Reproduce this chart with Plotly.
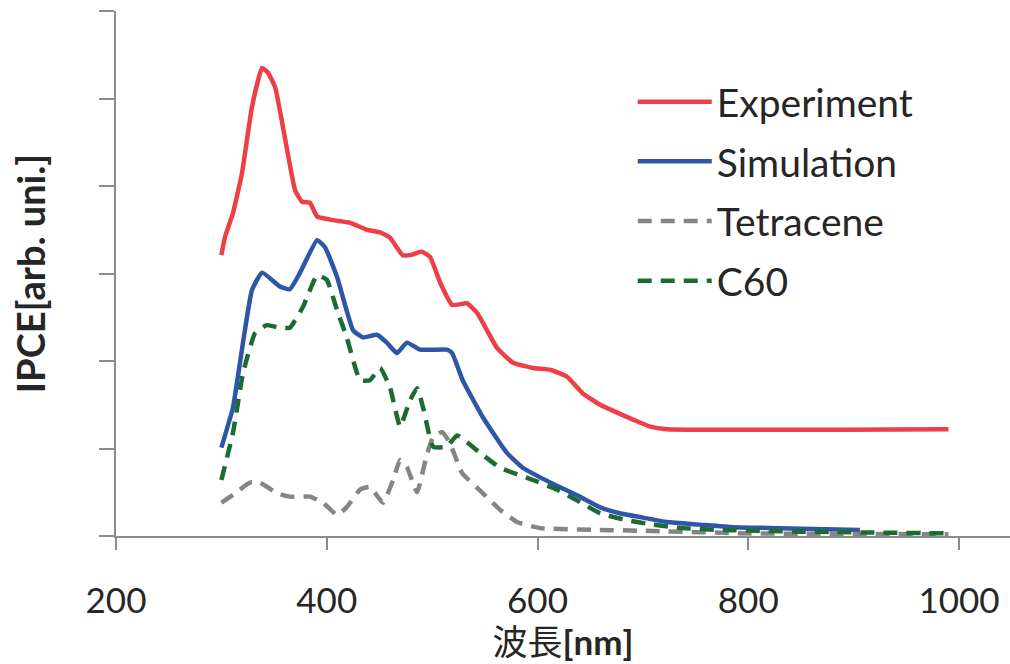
import plotly.graph_objects as go

# ---- data ----
exp_x = [300, 303.5, 311, 319.6, 329, 338.6, 344, 351, 358.5, 370, 376.6, 384, 391, 406, 422, 438,
         450.6, 460, 472, 479, 490, 498, 507.5, 519, 533, 542.7, 561.6, 576.8, 595.8, 612, 628, 643,
         659.4, 675.6, 690.7, 707, 723, 990]
exp_y = [3.21, 3.42, 3.69, 4.15, 4.90, 5.35, 5.30, 5.13, 4.67, 3.95, 3.82, 3.81, 3.65, 3.61, 3.58, 3.50,
         3.47, 3.41, 3.21, 3.21, 3.25, 3.19, 2.90, 2.64, 2.66, 2.55, 2.15, 1.98, 1.92, 1.90, 1.82, 1.63,
         1.50, 1.41, 1.33, 1.25, 1.22, 1.22]

sim_x = [300, 311, 320.5, 329, 338.6, 355.7, 365, 374.7, 390.8, 398.4, 409.8, 425, 434.5, 447.7, 457,
         466.7, 476, 488.6, 514, 519, 529, 548, 571, 586, 602.5, 621, 640, 659, 678, 700, 723, 754,
         785.7, 830, 906]
sim_y = [1.01, 1.47, 2.21, 2.81, 3.01, 2.85, 2.82, 3.01, 3.38, 3.30, 2.96, 2.35, 2.27, 2.30, 2.21,
         2.09, 2.21, 2.13, 2.13, 2.09, 1.78, 1.36, 0.95, 0.78, 0.67, 0.56, 0.45, 0.33, 0.26, 0.21, 0.16, 0.13,
         0.10, 0.09, 0.07]

tet_x = [300, 311, 327, 336.7, 352.8, 365, 384, 396.5, 409.8, 419, 431.6, 441, 453.4, 463, 469.6, 476,
         485.7, 495, 501, 509.4, 517, 528.4, 548, 564.5, 580.6, 602.5, 659.4, 700, 802, 990]
tet_y = [0.38, 0.47, 0.61, 0.61, 0.49, 0.45, 0.45, 0.38, 0.24, 0.33, 0.53, 0.56, 0.38, 0.64, 0.87, 0.79,
         0.50, 0.93, 1.13, 1.19, 1.06, 0.72, 0.49, 0.30, 0.16, 0.09, 0.07, 0.06, 0.03, 0.02]

c60_x = [300, 311, 320.5, 332, 343, 355.7, 365, 377.5, 390.8, 400, 409.8, 419, 431.6, 441, 450.6, 460,
         469.6, 479, 485.7, 491.4, 501, 514, 523.7, 545.5, 564.5, 595.8, 618.6, 640, 659.4, 685, 709.7,
         738, 770.5, 849, 990]
c60_y = [0.64, 1.18, 1.86, 2.32, 2.41, 2.38, 2.38, 2.62, 2.98, 2.93, 2.58, 2.27, 1.78, 1.78, 1.92, 1.70,
         1.25, 1.55, 1.69, 1.47, 1.02, 1.02, 1.15, 0.95, 0.78, 0.64, 0.53, 0.39, 0.26, 0.18, 0.13,
         0.09, 0.07, 0.05, 0.03]

x_ticks = [200, 400, 600, 800, 1000]
y_ticks = [0, 1, 2, 3, 4, 5, 6]

FONT = "Lato, 'Noto Sans CJK JP', sans-serif"
AXC = "#8c8c8c"
TXT = "#262626"
DASH = "14px,9px"

fig = go.Figure()
fig.add_trace(go.Scatter(x=exp_x, y=exp_y, name="Experiment", mode="lines", legendgroup="a",
                         line=dict(color="#EE3E48", width=4.5, shape="spline", smoothing=0.4)))
fig.add_trace(go.Scatter(x=sim_x, y=sim_y, name="Simulation", mode="lines", legendgroup="b",
                         line=dict(color="#2E56A8", width=4.5, shape="spline", smoothing=0.4)))
fig.add_trace(go.Scatter(x=tet_x, y=tet_y, name="Tetracene", mode="lines", legendgroup="c",
                         line=dict(color="#858585", width=4.5, dash=DASH, shape="spline", smoothing=0.4)))
fig.add_trace(go.Scatter(x=c60_x, y=c60_y, name="C60", mode="lines", legendgroup="d",
                         line=dict(color="#1D6B34", width=4.5, dash=DASH, shape="spline", smoothing=0.4)))

fig.update_layout(
    width=1010, height=664,
    margin=dict(l=116, r=0, t=11, b=128),
    paper_bgcolor="white", plot_bgcolor="white",
    font=dict(family=FONT, size=36, color=TXT),
    showlegend=True,
    legend=dict(x=0.578, y=0.888, xanchor="left", yanchor="top", bgcolor="rgba(0,0,0,0)",
                font=dict(size=39, color=TXT), tracegroupgap=6, itemwidth=74,
                traceorder="grouped"),
)
fig.update_xaxes(range=[200, 1048.4], tickvals=x_ticks, ticktext=[str(v) for v in x_ticks],
                 showgrid=False, zeroline=False, showline=True, linecolor=AXC, linewidth=2,
                 ticks="outside", ticklen=12, tickwidth=2, tickcolor=AXC,
                 tickfont=dict(size=35, color=TXT), ticklabelstandoff=21,
                 title=dict(text="波長<b>[nm]</b>", font=dict(size=35, color=TXT), standoff=4))
fig.update_yaxes(range=[0, 6], tickvals=y_ticks, showticklabels=False,
                 showgrid=False, zeroline=False, showline=True, linecolor=AXC, linewidth=2,
                 ticks="outside", ticklen=15, tickwidth=2, tickcolor=AXC,
                 title=dict(text="<b>IPCE[arb. uni.]</b>", font=dict(size=38, color=TXT), standoff=42))

fig.write_html("out.html")
